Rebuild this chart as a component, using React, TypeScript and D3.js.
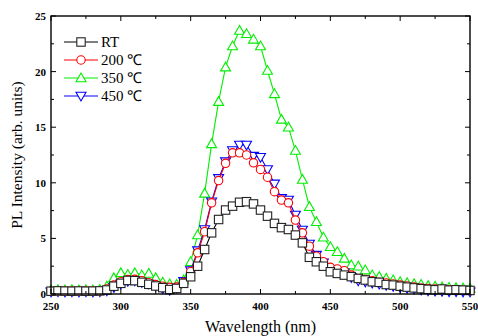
import React from 'react';
import * as d3 from 'd3';

// wavelength grid (nm), 5 nm steps
const wavelengths = d3.range(250, 555, 5);

const rt = [
  0.25, 0.28, 0.26, 0.25, 0.27, 0.25, 0.26, 0.28,
  0.36, 0.7, 0.96, 1.22, 1.2, 1.05, 0.87, 0.72, 0.57, 0.4, 0.5, 0.96,
  1.55, 2.5, 4.0, 5.5, 6.7, 7.55, 7.9, 8.25, 8.3, 8.1,
  7.55, 7.0, 6.35, 5.97, 5.8, 5.3, 4.6, 3.3, 2.9, 2.5,
  2.0, 1.85, 1.7, 1.56, 1.4, 1.26, 1.1, 1.05, 0.85, 0.8,
  0.7, 0.62, 0.55, 0.48, 0.42, 0.38, 0.45, 0.35, 0.38, 0.35, 0.32,
];
const t200 = [
  0.25, 0.27, 0.26, 0.26, 0.25, 0.27, 0.26, 0.28,
  0.45, 0.8, 1.1, 1.3, 1.32, 1.2, 1.02, 0.85, 0.7, 0.6, 0.62, 1.05,
  2.0, 3.7, 5.6, 8.2, 10.2, 11.75, 12.7, 12.7, 12.5, 11.8,
  11.2, 10.5, 9.2, 8.45, 8.2, 6.65, 5.5, 4.3, 3.4, 2.9,
  2.4, 2.25, 2.1, 1.7, 1.4, 1.3, 1.2, 1.05, 1.0, 0.9,
  0.8, 0.72, 0.62, 0.55, 0.5, 0.45, 0.42, 0.38, 0.36, 0.33, 0.3,
];
const t350 = [
  0.35, 0.38, 0.36, 0.38, 0.35, 0.37, 0.36, 0.4,
  0.7, 1.45, 1.9, 1.75, 1.9, 1.7, 1.85, 1.45, 1.05, 0.9, 0.85, 1.25,
  2.9, 5.3, 9.05, 13.5, 17.3, 20.4, 22.3, 23.7, 23.4, 22.9,
  22.3, 20.1, 18.0, 15.7, 15.0, 12.9, 10.3, 7.85, 6.5, 5.1,
  4.25, 3.8, 3.2, 2.6, 2.5, 2.15, 1.7, 1.56, 1.4, 1.26,
  1.1, 1.0, 0.92, 0.85, 0.75, 0.68, 0.62, 0.58, 0.55, 0.52, 0.5,
];
const t450 = [
  0.2, 0.22, 0.2, 0.21, 0.2, 0.22, 0.2, 0.22,
  0.3, 0.6, 0.9, 1.15, 1.2, 1.05, 0.9, 0.7, 0.5, 0.35, 0.55, 1.15,
  2.1, 3.9, 5.8, 8.3, 10.4, 11.9, 12.9, 13.4, 13.4, 12.4,
  12.3, 11.2, 9.9, 8.6, 8.45, 7.1, 5.75, 4.5, 3.5, 2.8,
  2.2, 2.0, 1.9, 1.5, 1.2, 1.1, 1.0, 0.9, 0.8, 0.7,
  0.6, 0.52, 0.45, 0.38, 0.3, 0.28, 0.25, 0.22, 0.22, 0.2, 0.2,
];

const xTicks = [250, 300, 350, 400, 450, 500, 550];
const xMinor = [275, 325, 375, 425, 475, 525];
const yTicks = [0, 5, 10, 15, 20, 25];
const yMinor = [2.5, 7.5, 12.5, 17.5, 22.5];

type Shape = 'square' | 'circle' | 'up' | 'down';
const series: { name: string; values: number[]; color: string; shape: Shape }[] = [
  { name: '350 ℃', values: t350, color: '#00ee00', shape: 'up' },
  { name: '450 ℃', values: t450, color: '#0000ff', shape: 'down' },
  { name: '200 ℃', values: t200, color: '#ff0000', shape: 'circle' },
  { name: 'RT', values: rt, color: '#000000', shape: 'square' },
];
const legendOrder = ['RT', '200 ℃', '350 ℃', '450 ℃'];

const W = 478;
const H = 336;
const m = { left: 51, right: 8, top: 16, bottom: 42 };

const x = d3.scaleLinear().domain([250, 550]).range([m.left, W - m.right]);
const y = d3.scaleLinear().domain([0, 25]).range([H - m.bottom, m.top]);

const serif = '"Times New Roman", "Liberation Serif", Tinos, serif';

function Marker({ shape, cx, cy, color }: { shape: Shape; cx: number; cy: number; color: string }) {
  const common = { fill: 'white', stroke: color, strokeWidth: 1.1 };
  if (shape === 'square') return <rect x={cx - 4.2} y={cy - 4.2} width={8.4} height={8.4} {...common} stroke="#222" />;
  if (shape === 'circle') return <circle cx={cx} cy={cy} r={4.2} {...common} />;
  const s = 5;
  const pts =
    shape === 'up'
      ? [[cx, cy - s], [cx - s, cy + s * 0.75], [cx + s, cy + s * 0.75]]
      : [[cx, cy + s], [cx - s, cy - s * 0.75], [cx + s, cy - s * 0.75]];
  return <polygon points={pts.map((p) => p.join(',')).join(' ')} {...common} />;
}

export default function App() {
  const line = d3
    .line<number>()
    .x((_, i) => x(wavelengths[i]))
    .y((d) => y(d));

  const x0 = x.range()[0];
  const x1 = x.range()[1];
  const y0 = y.range()[0];
  const y1 = y.range()[1];

  return (
    <svg width={W} height={H} style={{ position: 'fixed', left: 0, top: 0, background: 'white' }}>
      {/* data */}
      {series.map((s) => (
        <g key={s.name}>
          <path d={line(s.values) || ''} fill="none" stroke={s.color} strokeWidth={1.1} />
          {s.values.map((v, i) => (
            <Marker key={i} shape={s.shape} cx={x(wavelengths[i])} cy={y(v)} color={s.color} />
          ))}
        </g>
      ))}

      {/* frame */}
      <rect x={x0} y={y1} width={x1 - x0} height={y0 - y1} fill="none" stroke="#000" strokeWidth={1.4} />

      {/* x ticks */}
      {xTicks.map((t) => (
        <g key={'x' + t}>
          <line x1={x(t)} x2={x(t)} y1={y0} y2={y0 - 5} stroke="#000" />
          <line x1={x(t)} x2={x(t)} y1={y1} y2={y1 + 5} stroke="#000" />
          <text x={x(t)} y={y0 + 16} textAnchor="middle" fontFamily={serif} fontWeight="bold" fontSize={11}>
            {t}
          </text>
        </g>
      ))}
      {xMinor.map((t) => (
        <g key={'xm' + t}>
          <line x1={x(t)} x2={x(t)} y1={y0} y2={y0 - 3} stroke="#000" />
          <line x1={x(t)} x2={x(t)} y1={y1} y2={y1 + 3} stroke="#000" />
        </g>
      ))}

      {/* y ticks */}
      {yTicks.map((t) => (
        <g key={'y' + t}>
          <line x1={x0} x2={x0 + 5} y1={y(t)} y2={y(t)} stroke="#000" />
          <line x1={x1} x2={x1 - 5} y1={y(t)} y2={y(t)} stroke="#000" />
          <text x={x0 - 5} y={y(t) + 4} textAnchor="end" fontFamily={serif} fontWeight="bold" fontSize={11}>
            {t}
          </text>
        </g>
      ))}
      {yMinor.map((t) => (
        <g key={'ym' + t}>
          <line x1={x0} x2={x0 + 3} y1={y(t)} y2={y(t)} stroke="#000" />
          <line x1={x1} x2={x1 - 3} y1={y(t)} y2={y(t)} stroke="#000" />
        </g>
      ))}

      {/* axis titles */}
      <text x={(x0 + x1) / 2} y={H - 4} textAnchor="middle" fontFamily={serif} fontSize={16}>
        Wavelength (nm)
      </text>
      <text
        transform={`translate(22,${(y0 + y1) / 2}) rotate(-90)`}
        textAnchor="middle"
        fontFamily={serif}
        fontSize={15.5}
      >
        PL Intensity (arb. units)
      </text>

      {/* legend */}
      {legendOrder.map((name, i) => {
        const s = series.find((d) => d.name === name)!;
        const ly = 42 + i * 18;
        return (
          <g key={'lg' + name}>
            <line x1={64} x2={98} y1={ly} y2={ly} stroke={s.color} strokeWidth={1.1} />
            <Marker shape={s.shape} cx={81} cy={ly} color={s.color} />
            <text x={101} y={ly + 5} fontFamily={serif} fontSize={15}>
              {name}
            </text>
          </g>
        );
      })}
    </svg>
  );
}
